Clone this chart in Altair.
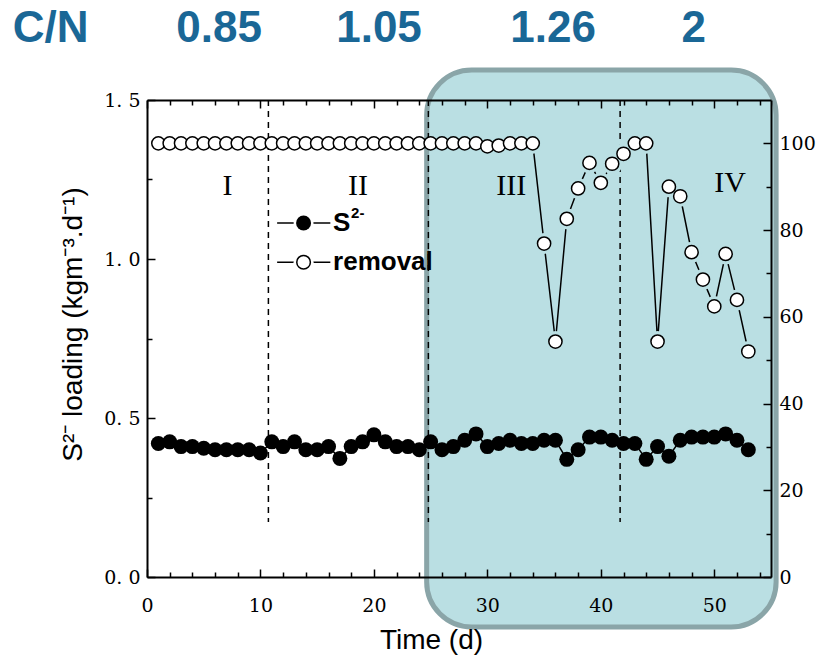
import altair as alt
import pandas as pd

# ---------------- data ----------------
days = list(range(1, 54))
s2_loading = [0.42, 0.425, 0.41, 0.41, 0.405, 0.40, 0.40, 0.40, 0.40, 0.39,
              0.425, 0.41, 0.425, 0.40, 0.40, 0.41, 0.373, 0.41, 0.425, 0.447,
              0.425, 0.41, 0.41, 0.40, 0.425, 0.40, 0.41, 0.43, 0.45, 0.41,
              0.42, 0.43, 0.42, 0.42, 0.43, 0.43, 0.37, 0.40, 0.44, 0.44,
              0.43, 0.42, 0.42, 0.37, 0.41, 0.38, 0.43, 0.44, 0.44, 0.44,
              0.45, 0.43, 0.40]
removal = [100] * 29 + [99.3, 99.5, 100, 100, 100,
                        76.9, 54.3, 82.6, 89.6, 95.5, 90.9, 95.3, 97.6, 100, 100,
                        54.3, 90.0, 87.8, 74.9, 68.6, 62.4, 74.5, 63.9, 52.0]

phase_bounds = [10.7, 24.8, 41.7]
phase_names = ["I", "II", "III", "IV"]
phase_days = [7.1, 18.6, 32.1, 51.4]
phase_level = [1.23, 1.23, 1.23, 1.24]

cn_labels = ["C/N", "0.85", "1.05", "1.26", "2"]
cn_days = [-8.5, 6.35, 20.45, 35.8, 48.2]
cn_level = 1.682

region_days = [24.65, 55.45]
region_load = [-0.157, 1.594]

legend_names = ["S", "removal"]
legend_level = [1.113, 0.99]
legend_line_days = [11.47, 16.16]
legend_marker_day = 13.8
legend_text_day = 16.4

x_major = [0, 10, 20, 30, 40, 50]
x_minor = [2, 4, 6, 8, 12, 14, 16, 18, 22, 24, 26, 28, 32, 34, 36, 38,
           42, 44, 46, 48, 52, 54]
yl_major = [0, 0.5, 1.0, 1.5]
yl_minor = [0.25, 0.75, 1.25]
yr_major = [0, 20, 40, 60, 80, 100]
yr_minor = [10, 30, 50, 70, 90]

# ---------------- styles ----------------
W, H = 624, 477
CYAN = "#badfe3"
BORDER = "#8aa5a8"
CN_COLOR = "#1a6796"
SERIF = "DejaVu Serif"
SANS = "Liberation Sans"

XS = alt.Scale(domain=[0, 55], nice=False, zero=False)
YL = alt.Scale(domain=[0, 1.5], nice=False, zero=False)
YR = alt.Scale(domain=[0, 110], nice=False, zero=False)

df = pd.DataFrame({"day": days, "s2": s2_loading, "removal": removal})

AX = dict(grid=False, zindex=1, domainColor="black", tickColor="black",
          labelColor="black", titleColor="black")


def tick_axis(orient, offset, values, size, domain=False):
    return alt.Axis(orient=orient, offset=offset, values=values, tickSize=size,
                    tickWidth=1.5, labels=False, domain=domain, domainWidth=2,
                    title=None, **AX)


# ---------------- layers ----------------
region = pd.DataFrame({"x1": [region_days[0]], "x2": [region_days[1]],
                       "y1": [region_load[0]], "y2": [region_load[1]]})
rect = alt.Chart(region).mark_rect(fill=CYAN, stroke=BORDER, strokeWidth=5,
                                   cornerRadius=45, clip=False).encode(
    x=alt.X("x1:Q", scale=XS, axis=None), x2="x2:Q",
    y=alt.Y("y1:Q", scale=YL, axis=None), y2="y2:Q")

dash = alt.Chart(pd.DataFrame({"d": phase_bounds})).mark_rule(
    color="black", strokeWidth=1.5, strokeDash=[6, 5]).encode(
    x=alt.X("d:Q", scale=XS, axis=None),
    y=alt.YDatum(1.5, scale=YL, axis=None),
    y2=alt.Y2Datum(0.173))

base = alt.Chart(df)

s2_line = base.mark_line(color="black", strokeWidth=1.5).encode(
    x=alt.X("day:Q", scale=XS, axis=None),
    y=alt.Y("s2:Q", scale=YL, axis=None))

s2_pts = base.mark_circle(color="black", size=225, opacity=1).encode(
    x=alt.X("day:Q", scale=XS, axis=alt.Axis(
        orient="bottom", values=x_major, ticks=False, tickSize=0, labelPadding=19,
        labelFont=SERIF, labelFontSize=19, labelFlush=False, domain=True,
        domainWidth=2, title="Time (d)", titleFont=SANS, titleFontSize=28,
        titleFontWeight="normal", titleX=284, titleY=63, titleBaseline="middle",
        titleAlign="center", **AX)),
    y=alt.Y("s2:Q", scale=YL, axis=alt.Axis(
        orient="left", values=yl_major, ticks=False, tickSize=0, labelPadding=7,
        labelExpr="replace(format(datum.value, '.1f'), '.', '. ')",
        labelFont=SERIF, labelFontSize=19, domain=True, domainWidth=2,
        title="S\u00b2\u207b loading (kgm\u207b\u00b3.d\u207b\u00b9)",
        titleFont=SANS, titleFontSize=28, titleFontWeight="normal",
        titleAngle=270, titleX=-74, titleY=224, titleAlign="center",
        titleBaseline="middle", **AX)))

rm_line = base.mark_line(color="black", strokeWidth=1.5).encode(
    x=alt.X("day:Q", scale=XS, axis=None),
    y=alt.Y("removal:Q", scale=YR, axis=None))

rm_halo = base.transform_filter(alt.datum.day >= 33).mark_circle(
    color=CYAN, size=441, opacity=1).encode(
    x=alt.X("day:Q", scale=XS, axis=None),
    y=alt.Y("removal:Q", scale=YR, axis=None))

rm_pts = base.mark_point(shape="circle", filled=True, fill="white", stroke="black",
                         strokeWidth=1.5, size=175, opacity=1).encode(
    x=alt.X("day:Q", scale=XS, axis=None),
    y=alt.Y("removal:Q", scale=YR, axis=alt.Axis(
        orient="right", values=yr_major, ticks=False, tickSize=0, labelPadding=8,
        labelFont=SERIF, labelFontSize=19, domain=True, domainWidth=2,
        title=None, **AX)))

phases = alt.Chart(pd.DataFrame({"t": phase_names, "d": phase_days, "v": phase_level})
                   ).mark_text(font="Liberation Serif", fontSize=30, color="black",
                               baseline="middle", align="center").encode(
    x=alt.X("d:Q", scale=XS, axis=None),
    y=alt.Y("v:Q", scale=YL, axis=None), text="t:N")

leg = pd.DataFrame({"name": legend_names, "v": legend_level,
                    "x1": [legend_line_days[0]] * 2, "x2": [legend_line_days[1]] * 2,
                    "m": [legend_marker_day] * 2, "tx": [legend_text_day] * 2})
legb = alt.Chart(leg)
leg_line = legb.mark_rule(color="black", strokeWidth=1.5).encode(
    x=alt.X("x1:Q", scale=XS, axis=None), x2="x2:Q",
    y=alt.Y("v:Q", scale=YL, axis=None))
leg_halo = legb.mark_circle(color="white", size=400, opacity=1).encode(
    x=alt.X("m:Q", scale=XS, axis=None), y=alt.Y("v:Q", scale=YL, axis=None))
leg_black = legb.transform_filter(alt.datum.name == "S").mark_circle(
    color="black", size=225, opacity=1).encode(
    x=alt.X("m:Q", scale=XS, axis=None), y=alt.Y("v:Q", scale=YL, axis=None))
leg_white = legb.transform_filter(alt.datum.name == "removal").mark_point(
    shape="circle", filled=True, fill="white", stroke="black", strokeWidth=1.5,
    size=185, opacity=1).encode(
    x=alt.X("m:Q", scale=XS, axis=None), y=alt.Y("v:Q", scale=YL, axis=None))
leg_text = legb.mark_text(font=SANS, fontSize=26, fontWeight="bold", color="black",
                          align="left", baseline="middle").encode(
    x=alt.X("tx:Q", scale=XS, axis=None), y=alt.Y("v:Q", scale=YL, axis=None),
    text="name:N")
leg_sup = legb.transform_filter(alt.datum.name == "S").mark_text(
    font=SANS, fontSize=15, fontWeight="bold", color="black", align="left",
    baseline="middle", dx=18, dy=-10).encode(
    x=alt.X("tx:Q", scale=XS, axis=None), y=alt.Y("v:Q", scale=YL, axis=None),
    text=alt.value("2-"))

cn = alt.Chart(pd.DataFrame({"t": cn_labels, "d": cn_days, "v": [cn_level] * len(cn_labels)})
               ).mark_text(font=SANS, fontSize=44, fontWeight="bold", color=CN_COLOR,
                           align="center", baseline="alphabetic").encode(
    x=alt.X("d:Q", scale=XS, axis=None),
    y=alt.Y("v:Q", scale=YL, axis=None), text="t:N")


def axis_layer(xa, ya, field, yscale):
    return base.mark_point(opacity=0).encode(
        x=alt.X("day:Q", scale=XS, axis=xa),
        y=alt.Y(f"{field}:Q", scale=yscale, axis=ya))


ax1 = axis_layer(tick_axis("top", -H, x_major, 8),
                 tick_axis("right", -W, yl_major, 8), "s2", YL)
ax2 = axis_layer(tick_axis("top", -H, x_minor, 5),
                 tick_axis("right", -W, yl_minor, 5), "s2", YL)
ax3 = axis_layer(tick_axis("bottom", -H, x_major, 8, domain=True),
                 tick_axis("left", -W, yr_major, 8), "removal", YR)
ax4 = axis_layer(tick_axis("bottom", -H, x_minor, 5),
                 tick_axis("left", -W, yr_minor, 5), "removal", YR)

chart = alt.layer(
    rect, dash, s2_line, s2_pts, rm_line, rm_halo, rm_pts, phases,
    leg_line, leg_halo, leg_black, leg_white, leg_text, leg_sup, cn,
    ax1, ax2, ax3, ax4
).resolve_scale(y="independent").resolve_axis(x="independent", y="independent").properties(
    width=W, height=H,
    padding={"left": 147, "top": 100, "right": 48, "bottom": 80},
    autosize=alt.AutoSizeParams(type="none"),
    background="white",
).configure_view(stroke=None)

chart.save("out.html", embed_options={"renderer": "svg", "actions": False})
